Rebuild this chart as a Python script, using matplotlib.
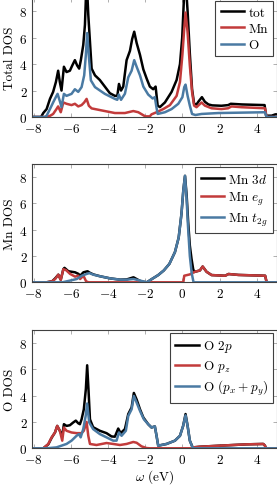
import matplotlib
matplotlib.use("Agg")
import matplotlib.pyplot as plt

plt.rcParams['font.family'] = 'serif'
plt.rcParams['font.serif'] = ['cmr10', 'DejaVu Serif']
plt.rcParams['mathtext.fontset'] = 'cm'
plt.rcParams['axes.formatter.use_mathtext'] = True
plt.rcParams['axes.unicode_minus'] = True

BLACK = '#000000'
RED = '#c23b3b'
BLUE = '#4a7aa3'

# ---------------- Top panel: Total DOS ----------------
tot_E = [-8.1, -7.6, -7.48, -7.3, -7.12, -6.95, -6.8, -6.68, -6.59, -6.5, -6.37, -6.23, -6.05, -5.92,
         -5.78, -5.66, -5.55, -5.46, -5.33, -5.24, -5.15, -5.06, -4.97, -4.88, -4.7, -4.44, -4.17, -3.9,
         -3.63, -3.5, -3.41, -3.3, -3.18, -3.0, -2.82, -2.7, -2.59, -2.46, -2.28, -2.1, -1.92, -1.75,
         -1.57, -1.44, -1.33, -1.21, -0.94, -0.58, -0.31, -0.13, -0.01, 0.1, 0.17, 0.28, 0.4, 0.52,
         0.63, 0.76, 0.88, 1.05, 1.21, 1.4, 1.6, 2.1, 2.46, 2.6, 3.2, 4.42, 4.5, 4.8, 5.0, 5.1]
tot_v = [0, 0, 0.3, 0.6, 1.37, 1.9, 2.65, 3.5, 2.65, 2.0, 3.8, 3.4, 3.5, 3.9,
         4.3, 3.9, 3.66, 4.3, 5.45, 6.97, 10.5, 7.73, 5.7, 3.66, 3.15, 2.8, 2.3, 1.8,
         1.6, 1.6, 2.5, 2.0, 2.3, 4.3, 5.0, 5.9, 6.45, 5.6, 4.7, 3.6, 2.9, 2.3,
         2.1, 2.3, 0.86, 0.75, 1.1, 1.9, 2.8, 4.0, 6.0, 9.5, 10.4, 8.0, 4.8, 2.1,
         1.0, 0.95, 1.2, 1.5, 1.15, 0.95, 0.88, 0.85, 0.9, 1.0, 0.95, 0.9, 0.1, 0.1, 0.2, 0.2]

mn_E = [-8.1, -7.3, -7.1, -6.95, -6.77, -6.68, -6.54, -6.4, -6.23, -5.96, -5.78, -5.6, -5.42, -5.28,
        -5.15, -5.03, -4.88, -4.35, -3.63, -3.09, -2.64, -2.37, -2.0, -1.75, -1.66, -1.39, -1.03,
        -0.67, -0.31, -0.13, 0.0, 0.1, 0.17, 0.28, 0.4, 0.52, 0.63, 0.76, 1.03, 1.21, 1.57, 2.1,
        2.46, 2.64, 3.18, 4.44, 4.53, 5.1]
mn_v = [0, 0, 0.1, 0.23, 0.6, 0.8, 0.36, 1.1, 1.0, 0.9, 1.0, 0.8, 0.9, 1.1,
        1.37, 0.85, 0.65, 0.5, 0.3, 0.3, 0.45, 0.36, 0.05, 0.05, 0.2, 0.36, 0.6,
        0.9, 1.6, 2.65, 4.7, 6.7, 7.9, 6.4, 3.9, 1.9, 0.86, 0.74, 1.1, 0.86, 0.66, 0.6,
        0.66, 0.8, 0.74, 0.66, 0, 0]

o_E = [-8.1, -7.4, -7.3, -7.12, -6.95, -6.77, -6.71, -6.59, -6.5, -6.37, -6.23, -5.96, -5.78, -5.6,
       -5.42, -5.28, -5.19, -5.12, -5.03, -4.92, -4.7, -4.17, -3.63, -3.5, -3.42, -3.3, -3.09, -2.91,
       -2.73, -2.59, -2.46, -2.28, -2.1, -1.84, -1.6, -1.48, -1.41, -1.33, -0.94, -0.58, -0.22, 0.0,
       0.1, 0.17, 0.28, 0.4, 0.52, 0.7, 1.03, 1.93, 4.44, 4.53, 5.1]
o_v = [0, 0, 0.1, 0.6, 1.1, 1.6, 1.75, 1.2, 0.75, 1.75, 1.6, 1.75, 2.1, 1.9,
       2.26, 3.15, 4.7, 6.35, 4.6, 2.77, 2.26, 1.75, 1.37, 1.3, 1.7, 1.3, 1.76, 3.0,
       3.5, 4.3, 3.8, 3.15, 2.3, 1.7, 1.4, 1.5, 0.86, 0.23, 0.36, 0.6, 1.0, 1.5,
       2.26, 2.45, 1.6, 0.86, 0.23, 0.15, 0.23, 0.3, 0.36, 0, 0]

# ---------------- Middle panel: Mn DOS ----------------
mn3d_E = [-8.1, -7.3, -7.0, -6.84, -6.67, -6.54, -6.4, -6.34, -6.13, -5.95, -5.77, -5.59, -5.5, -5.32,
          -5.1, -4.97, -4.79, -4.43, -3.89, -3.35, -2.99, -2.63, -2.4, -2.2, -1.91, -1.64, -1.3, -1.0,
          -0.7, -0.4, -0.2, -0.05, 0.05, 0.14, 0.23, 0.31, 0.4, 0.49, 0.58, 0.64, 0.67, 0.94, 1.09,
          1.3, 1.57, 2.3, 2.48, 3.02, 4.45, 4.53, 5.1]
mn3d_v = [0, 0, 0.08, 0.3, 0.58, 0.2, 1.0, 1.1, 0.84, 0.8, 0.76, 0.64, 0.5, 0.76,
          0.84, 0.72, 0.6, 0.46, 0.3, 0.2, 0.22, 0.38, 0.2, 0.05, 0, 0.25, 0.55, 0.9,
          1.4, 2.3, 3.4, 5.2, 7.0, 8.1, 6.6, 4.6, 2.8, 1.8, 1.0, 0.78, 0.8, 0.9, 1.2,
          0.8, 0.55, 0.5, 0.63, 0.56, 0.5, 0, 0]

eg_E = [-8.1, -7.3, -7.0, -6.84, -6.67, -6.54, -6.4, -6.25, -6.04, -5.77, -5.6, -5.5, -5.32, -5.18,
        -5.05, 0.05, 0.1, 0.4, 0.67, 0.94, 1.09, 1.3, 1.57, 2.3, 2.48, 3.02, 4.45, 4.53, 5.1]
eg_v = [0, 0, 0.08, 0.25, 0.58, 0.18, 1.0, 0.92, 0.64, 0.43, 0.5, 0.25, 0.5, 0.08,
        0, 0, 0.5, 0.6, 0.8, 0.9, 1.2, 0.8, 0.55, 0.5, 0.63, 0.56, 0.5, 0, 0]

t2g_E = [-8.1, -6.45, -6.04, -5.68, -5.41, -5.14, -5.0, -4.79, -4.43, -3.89, -3.35, -2.99, -2.63,
         -2.27, -1.91, -1.64, -1.3, -1.0, -0.7, -0.4, -0.2, -0.05, 0.05, 0.14, 0.22, 0.3, 0.4, 0.5,
         0.6, 5.1]
t2g_v = [0, 0, 0.13, 0.25, 0.5, 0.64, 0.7, 0.58, 0.46, 0.3, 0.2, 0.2, 0.25,
         0.13, 0, 0.25, 0.55, 0.9, 1.4, 2.3, 3.4, 5.2, 7.0, 8.1, 6.5, 4.3, 2.0, 0.7,
         0, 0]

# ---------------- Bottom panel: O DOS ----------------
o2p_E = [-8.1, -7.48, -7.21, -7.03, -6.85, -6.73, -6.59, -6.46, -6.37, -6.23, -6.05, -5.87, -5.73,
         -5.6, -5.51, -5.42, -5.3, -5.19, -5.12, -5.05, -4.97, -4.8, -4.44, -4.08, -3.81, -3.63,
         -3.45, -3.32, -3.09, -2.91, -2.73, -2.61, -2.46, -2.28, -2.1, -1.84, -1.66, -1.48, -1.39,
         -1.3, -0.85, -0.4, -0.13, 0.04, 0.17, 0.28, 0.4, 0.55, 0.6, 0.94, 2.02, 2.73, 3.45, 4.35,
         4.44, 4.49, 5.1]
o2p_v = [0, 0, 0.3, 0.8, 1.2, 1.7, 1.33, 0.95, 1.83, 1.7, 1.75, 1.96, 2.1,
         1.9, 1.83, 2.2, 2.96, 4.5, 6.3, 4.5, 2.2, 1.6, 1.33, 1.15, 0.9, 0.88,
         1.5, 1.15, 1.46, 2.6, 3.1, 4.2, 3.7, 2.96, 2.34, 1.83, 1.58, 1.66, 0.95,
         0.2, 0.33, 0.58, 0.95, 1.7, 2.6, 1.7, 0.58, 0.07, 0.07, 0.12, 0.2, 0.25, 0.3, 0.33,
         0.2, 0, 0]

pz_E = [-8.1, -7.48, -7.21, -7.03, -6.85, -6.73, -6.59, -6.46, -6.37, -6.23, -5.96, -5.69, -5.42,
        -5.3, -5.15, -5.06, -4.97, -4.62, -4.08, -3.72, -3.36, -3.0, -2.64, -2.46, -2.2, -1.93,
        -1.75, 0.55, 0.58, 0.94, 2.02, 2.73, 3.45, 4.35, 4.44, 4.49, 5.1]
pz_v = [0, 0, 0.33, 0.83, 1.2, 1.7, 1.33, 0.58, 1.58, 1.33, 1.2, 1.15, 1.15,
        1.33, 2.0, 0.95, 0.33, 0.25, 0.4, 0.33, 0.25, 0.33, 0.48, 0.42, 0.15, 0.02,
        0, 0, 0.07, 0.12, 0.2, 0.25, 0.3, 0.33, 0.2, 0, 0]

pxy_E = [-8.1, -7.3, -6.77, -6.23, -5.96, -5.69, -5.56, -5.47, -5.33, -5.2, -5.12, -5.01, -4.8,
         -4.44, -4.08, -3.72, -3.54, -3.41, -3.27, -3.04, -2.91, -2.73, -2.61, -2.46, -2.28, -2.07,
         -1.84, -1.66, -1.48, -1.39, -1.3, -0.85, -0.4, -0.13, 0.04, 0.17, 0.28, 0.4, 0.55, 0.65, 5.1]
pxy_v = [0, 0, 0.07, 0.33, 0.58, 0.95, 1.08, 0.83, 1.46, 2.46, 3.4, 1.96, 1.46,
         1.08, 0.83, 0.58, 0.58, 1.2, 0.95, 1.33, 2.46, 2.96, 3.97, 3.47, 2.84, 2.2,
         1.83, 1.58, 1.66, 0.95, 0.2, 0.33, 0.58, 0.95, 1.7, 2.5, 1.7, 0.58, 0.05, 0, 0]

xticks = [-8, -6, -4, -2, 0, 2, 4]
yticks = [0, 2, 4, 6, 8]
xlim = (-8.07, 5.06)
ylim = (0, 9)

W, H = 277, 489
fig = plt.figure(figsize=(W / 100, H / 100), dpi=100)

left = 32.3 / W
width = (276.5 - 32.3) / W
FS = 9.5

def make_ax(top_px, bottom_px):
    return fig.add_axes([left, 1 - bottom_px / H, width, (bottom_px - top_px) / H])

panels = [
    (make_ax(-1.0, 118.0), 'Total DOS',
     [(tot_E, tot_v, BLACK, 'tot'), (mn_E, mn_v, RED, 'Mn'), (o_E, o_v, BLUE, 'O')]),
    (make_ax(165.0, 283.3), 'Mn DOS',
     [(mn3d_E, mn3d_v, BLACK, r'Mn $3d$'), (eg_E, eg_v, RED, r'Mn $e_g$'), (t2g_E, t2g_v, BLUE, r'Mn $t_{2g}$')]),
    (make_ax(330.7, 449.3), 'O DOS',
     [(o2p_E, o2p_v, BLACK, r'O $2p$'), (pz_E, pz_v, RED, r'O $p_z$'), (pxy_E, pxy_v, BLUE, r'O $(p_x+p_y)$')]),
]

frame_col = '#404040'
for ax, ylabel, series in panels:
    for E, v, c, lab in series:
        ax.plot(E, v, color=c, lw=1.8, label=lab, solid_joinstyle='round')
    ax.set_xlim(*xlim)
    ax.set_ylim(*ylim)
    ax.set_xticks(xticks)
    ax.set_yticks(yticks)
    ax.tick_params(direction='in', length=3, width=0.5, color='#909090', labelsize=FS,
                   top=True, right=True, pad=3.5, labelcolor='black')
    ax.tick_params(axis='x', pad=3.5)
    for s in ax.spines.values():
        s.set_color(frame_col)
        s.set_linewidth(0.8)
    ax.set_ylabel(ylabel, fontsize=FS, labelpad=2.5)
    leg = ax.legend(loc='upper right', fontsize=FS, frameon=True, fancybox=False,
                    edgecolor=frame_col, framealpha=1, handlelength=1.8, handletextpad=0.3,
                    borderpad=0.4, labelspacing=0.3, borderaxespad=0.25)
    leg.get_frame().set_linewidth(0.8)

panels[2][0].set_xlabel(r'$\omega$ (eV)', fontsize=FS, labelpad=0.5)

fig.savefig('out.png', dpi=100)
